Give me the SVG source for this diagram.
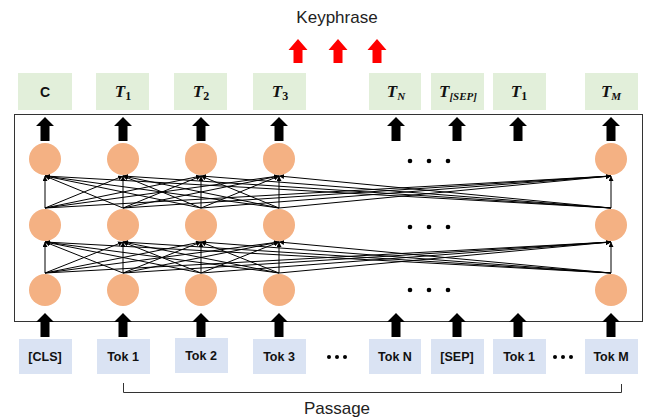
<svg xmlns="http://www.w3.org/2000/svg" width="647" height="419" viewBox="0 0 647 419">
  <style>
    .out { fill: #e2efda; }
    .tok { fill: #dae3f3; }
    .node { fill: #f4b183; }
    .lbl { font-family: "Liberation Sans", Arial, sans-serif; font-weight: bold; font-size: 12.5px; fill: #111; text-anchor: middle; }
    .math { font-family: "Liberation Serif", serif; font-weight: bold; font-style: italic; font-size: 17px; fill: #111; text-anchor: middle; }
    .sub { font-size: 12px; font-style: normal; }
    .subi { font-size: 11px; }
    .title { font-family: "Liberation Sans", Arial, sans-serif; font-size: 17px; fill: #222; text-anchor: middle; }
    .edge { stroke: #000; stroke-width: 1; fill: none; }
    .dot { fill: #000; }
  </style>
  <defs>
    <marker id="ah" viewBox="0 0 6 6" refX="6" refY="3" markerWidth="5" markerHeight="5" orient="auto" markerUnits="userSpaceOnUse">
      <path d="M0,0 L6,3 L0,6 Z" fill="#000"/>
    </marker>
    <!-- block arrow pointing up, origin at tip -->
    <path id="blk" d="M0,0 L9,9 L4.5,9 L4.5,24 L-4.5,24 L-4.5,9 L-9,9 Z"/>
    <path id="red" d="M0,0 L9.5,11 L4.5,11 L4.5,24 L-4.5,24 L-4.5,11 L-9.5,11 Z"/>
  </defs>

  <!-- titles -->
  <text class="title" x="337" y="23">Keyphrase</text>
  <g fill="#ff0000">
    <use href="#red" x="298" y="39"/>
    <use href="#red" x="338" y="39"/>
    <use href="#red" x="377" y="39"/>
  </g>

  <!-- output embeddings -->
  <g id="out-c"><rect class="out" x="18" y="73" width="54" height="37"/><text class="lbl" x="45" y="97" style="font-size:14px">C</text></g>
  <g id="out-t1"><rect class="out" x="96" y="73" width="53" height="37"/><text class="math" x="123" y="97">T<tspan class="sub" dy="3">1</tspan></text></g>
  <g id="out-t2"><rect class="out" x="174" y="73" width="53" height="37"/><text class="math" x="201" y="97">T<tspan class="sub" dy="3">2</tspan></text></g>
  <g id="out-t3"><rect class="out" x="253" y="73" width="53" height="37"/><text class="math" x="280" y="97">T<tspan class="sub" dy="3">3</tspan></text></g>
  <g id="out-tn"><rect class="out" x="369" y="73" width="52" height="37"/><text class="math" x="396" y="97">T<tspan class="subi" dy="3">N</tspan></text></g>
  <g id="out-tsep"><rect class="out" x="431" y="73" width="53" height="37"/><text class="math" x="458" y="97">T<tspan class="subi" dy="3">[SEP]</tspan></text></g>
  <g id="out-tb1"><rect class="out" x="493" y="73" width="53" height="37"/><text class="math" x="519" y="97">T<tspan class="sub" dy="3">1</tspan></text></g>
  <g id="out-tm"><rect class="out" x="585" y="73" width="53" height="37"/><text class="math" x="611" y="97">T<tspan class="subi" dy="3">M</tspan></text></g>

  <!-- encoder frame -->
  <rect x="14.5" y="114.5" width="628" height="207" fill="none" stroke="#333" stroke-width="1"/>

  <!-- output arrows -->
  <g fill="#000">
    <use href="#blk" x="45" y="117"/>
    <use href="#blk" x="123" y="117"/>
    <use href="#blk" x="201" y="117"/>
    <use href="#blk" x="279" y="117"/>
    <use href="#blk" x="396" y="117"/>
    <use href="#blk" x="457" y="117"/>
    <use href="#blk" x="518" y="117"/>
    <use href="#blk" x="611" y="117"/>
  </g>

  <!-- connectors between layers -->
  <g id="connectors" class="edge" marker-end="url(#ah)">
    <!-- layer 1 -> layer 2 -->
    <line x1="45" y1="273" x2="45" y2="242"/><line x1="45" y1="273" x2="123" y2="242"/><line x1="45" y1="273" x2="201" y2="242"/><line x1="45" y1="273" x2="279" y2="242"/><line x1="45" y1="273" x2="611" y2="242"/>
    <line x1="123" y1="273" x2="45" y2="242"/><line x1="123" y1="273" x2="123" y2="242"/><line x1="123" y1="273" x2="201" y2="242"/><line x1="123" y1="273" x2="279" y2="242"/><line x1="123" y1="273" x2="611" y2="242"/>
    <line x1="201" y1="273" x2="45" y2="242"/><line x1="201" y1="273" x2="123" y2="242"/><line x1="201" y1="273" x2="201" y2="242"/><line x1="201" y1="273" x2="279" y2="242"/><line x1="201" y1="273" x2="611" y2="242"/>
    <line x1="279" y1="273" x2="45" y2="242"/><line x1="279" y1="273" x2="123" y2="242"/><line x1="279" y1="273" x2="201" y2="242"/><line x1="279" y1="273" x2="279" y2="242"/><line x1="279" y1="273" x2="611" y2="242"/>
    <line x1="611" y1="273" x2="45" y2="242"/><line x1="611" y1="273" x2="123" y2="242"/><line x1="611" y1="273" x2="201" y2="242"/><line x1="611" y1="273" x2="279" y2="242"/><line x1="611" y1="273" x2="611" y2="242"/>
    <!-- layer 2 -> layer 3 -->
    <line x1="45" y1="208" x2="45" y2="176"/><line x1="45" y1="208" x2="123" y2="176"/><line x1="45" y1="208" x2="201" y2="176"/><line x1="45" y1="208" x2="279" y2="176"/><line x1="45" y1="208" x2="611" y2="176"/>
    <line x1="123" y1="208" x2="45" y2="176"/><line x1="123" y1="208" x2="123" y2="176"/><line x1="123" y1="208" x2="201" y2="176"/><line x1="123" y1="208" x2="279" y2="176"/><line x1="123" y1="208" x2="611" y2="176"/>
    <line x1="201" y1="208" x2="45" y2="176"/><line x1="201" y1="208" x2="123" y2="176"/><line x1="201" y1="208" x2="201" y2="176"/><line x1="201" y1="208" x2="279" y2="176"/><line x1="201" y1="208" x2="611" y2="176"/>
    <line x1="279" y1="208" x2="45" y2="176"/><line x1="279" y1="208" x2="123" y2="176"/><line x1="279" y1="208" x2="201" y2="176"/><line x1="279" y1="208" x2="279" y2="176"/><line x1="279" y1="208" x2="611" y2="176"/>
    <line x1="611" y1="208" x2="45" y2="176"/><line x1="611" y1="208" x2="123" y2="176"/><line x1="611" y1="208" x2="201" y2="176"/><line x1="611" y1="208" x2="279" y2="176"/><line x1="611" y1="208" x2="611" y2="176"/>
  </g>

  <!-- hidden units -->
  <g id="layer3">
    <circle class="node" cx="45" cy="159" r="16"/><circle class="node" cx="123" cy="159" r="16"/><circle class="node" cx="201" cy="159" r="16"/><circle class="node" cx="279" cy="159" r="16"/><circle class="node" cx="611" cy="159" r="16"/>
  </g>
  <g id="layer2">
    <circle class="node" cx="45" cy="225" r="16"/><circle class="node" cx="123" cy="225" r="16"/><circle class="node" cx="201" cy="225" r="16"/><circle class="node" cx="279" cy="225" r="16"/><circle class="node" cx="611" cy="225" r="16"/>
  </g>
  <g id="layer1">
    <circle class="node" cx="45" cy="290" r="16"/><circle class="node" cx="123" cy="290" r="16"/><circle class="node" cx="201" cy="290" r="16"/><circle class="node" cx="279" cy="290" r="16"/><circle class="node" cx="611" cy="290" r="16"/>
  </g>
  <g id="ellipsis-layers">
    <circle class="dot" cx="410" cy="161" r="2.3"/><circle class="dot" cx="429" cy="161" r="2.3"/><circle class="dot" cx="448" cy="161" r="2.3"/>
    <circle class="dot" cx="410" cy="227" r="2.3"/><circle class="dot" cx="429" cy="227" r="2.3"/><circle class="dot" cx="448" cy="227" r="2.3"/>
    <circle class="dot" cx="410" cy="290" r="2.3"/><circle class="dot" cx="429" cy="290" r="2.3"/><circle class="dot" cx="448" cy="290" r="2.3"/>
  </g>

  <!-- input arrows -->
  <g fill="#000">
    <use href="#blk" x="45" y="313"/>
    <use href="#blk" x="123" y="313"/>
    <use href="#blk" x="201" y="313"/>
    <use href="#blk" x="279" y="313"/>
    <use href="#blk" x="396" y="313"/>
    <use href="#blk" x="457" y="313"/>
    <use href="#blk" x="518" y="313"/>
    <use href="#blk" x="611" y="313"/>
  </g>

  <!-- input tokens -->
  <g id="tok-cls"><rect class="tok" x="19" y="339" width="53" height="35"/><text class="lbl" x="45" y="361">[CLS]</text></g>
  <g id="tok-1"><rect class="tok" x="97" y="339" width="53" height="35"/><text class="lbl" x="123" y="361">Tok 1</text></g>
  <g id="tok-2"><rect class="tok" x="175" y="338" width="53" height="35"/><text class="lbl" x="201" y="360">Tok 2</text></g>
  <g id="tok-3"><rect class="tok" x="253" y="339" width="53" height="35"/><text class="lbl" x="279" y="361">Tok 3</text></g>
  <g id="tok-n"><rect class="tok" x="369" y="339" width="52" height="35"/><text class="lbl" x="395" y="361">Tok N</text></g>
  <g id="tok-sep"><rect class="tok" x="431" y="339" width="53" height="35"/><text class="lbl" x="457" y="361">[SEP]</text></g>
  <g id="tok-b1"><rect class="tok" x="493" y="339" width="53" height="35"/><text class="lbl" x="519" y="361">Tok 1</text></g>
  <g id="tok-m"><rect class="tok" x="585" y="339" width="53" height="35"/><text class="lbl" x="611" y="361">Tok M</text></g>
  <g id="ellipsis-tokens">
    <circle class="dot" cx="329" cy="357" r="2"/><circle class="dot" cx="337" cy="357" r="2"/><circle class="dot" cx="345" cy="357" r="2"/>
    <circle class="dot" cx="555" cy="357" r="2"/><circle class="dot" cx="563" cy="357" r="2"/><circle class="dot" cx="571" cy="357" r="2"/>
  </g>

  <!-- passage bracket -->
  <path d="M123.5,383 V392.5 H621.5 V384" fill="none" stroke="#333" stroke-width="1"/>
  <text class="title" x="337" y="414">Passage</text>
</svg>
